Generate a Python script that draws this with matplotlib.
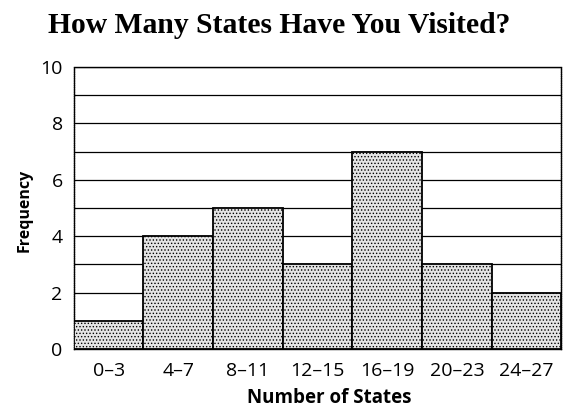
import matplotlib
matplotlib.use("Agg")
import matplotlib.pyplot as plt
import numpy as np

categories = ["0\u20133", "4\u20137", "8\u201311", "12\u201315", "16\u201319", "20\u201323", "24\u201327"]
frequency = [1, 4, 5, 3, 7, 3, 2]
y_ticks = [0, 2, 4, 6, 8, 10]

plt.rcParams['hatch.linewidth'] = 0.6
plt.rcParams['hatch.color'] = '#555555'

fig = plt.figure(figsize=(5.63, 4.07), dpi=100)
ax = fig.add_axes([0.131, 0.1425, 0.866, 0.693])

x = np.arange(len(categories))
ax.bar(x, frequency, width=1.0, color='#e4e4e4', edgecolor='black', linewidth=1.3,
       hatch='.....', zorder=3)

ax.set_xlim(-0.5, len(categories) - 0.5)
ax.set_ylim(0, 10)
ax.set_yticks(y_ticks)
ax.set_yticks(np.arange(0, 11, 1), minor=True)
ax.yaxis.grid(True, which='both', color='black', linewidth=0.9, zorder=0)
ax.set_axisbelow(True)
ax.tick_params(axis='both', which='both', length=0)
ax.tick_params(axis='y', pad=8)
ax.tick_params(axis='x', pad=9)

ax.set_xticks(x)
ax.set_xticklabels(categories, fontfamily='Open Sans', fontsize=14, fontweight='medium')
for lab in ax.get_yticklabels():
    lab.set_fontfamily('Open Sans')
    lab.set_fontsize(14)
    lab.set_fontweight('medium')

for side in ['left', 'right', 'top', 'bottom']:
    ax.spines[side].set_linewidth(1.0)
    ax.spines[side].set_color('black')
ax.spines['left'].set_linestyle((0, (1, 0.6)))
ax.spines['right'].set_linestyle((0, (1, 0.6)))

fig.text(329 / 563, 1 - 403 / 407, "Number of States", ha='center', va='baseline',
         fontfamily='Open Sans', fontweight='bold', fontsize=13.5)
fig.text(25 / 563, 1 - 210 / 407, "Frequency", ha='center', va='center', rotation=90,
         fontfamily='Open Sans', fontweight='bold', fontsize=11.5)

fig.text(279 / 563, 1 - 33 / 407, "How Many States Have You Visited?", ha='center', va='baseline',
         fontfamily='Liberation Serif', fontweight='bold', fontsize=21.3)

fig.savefig("out.png", dpi=100)
